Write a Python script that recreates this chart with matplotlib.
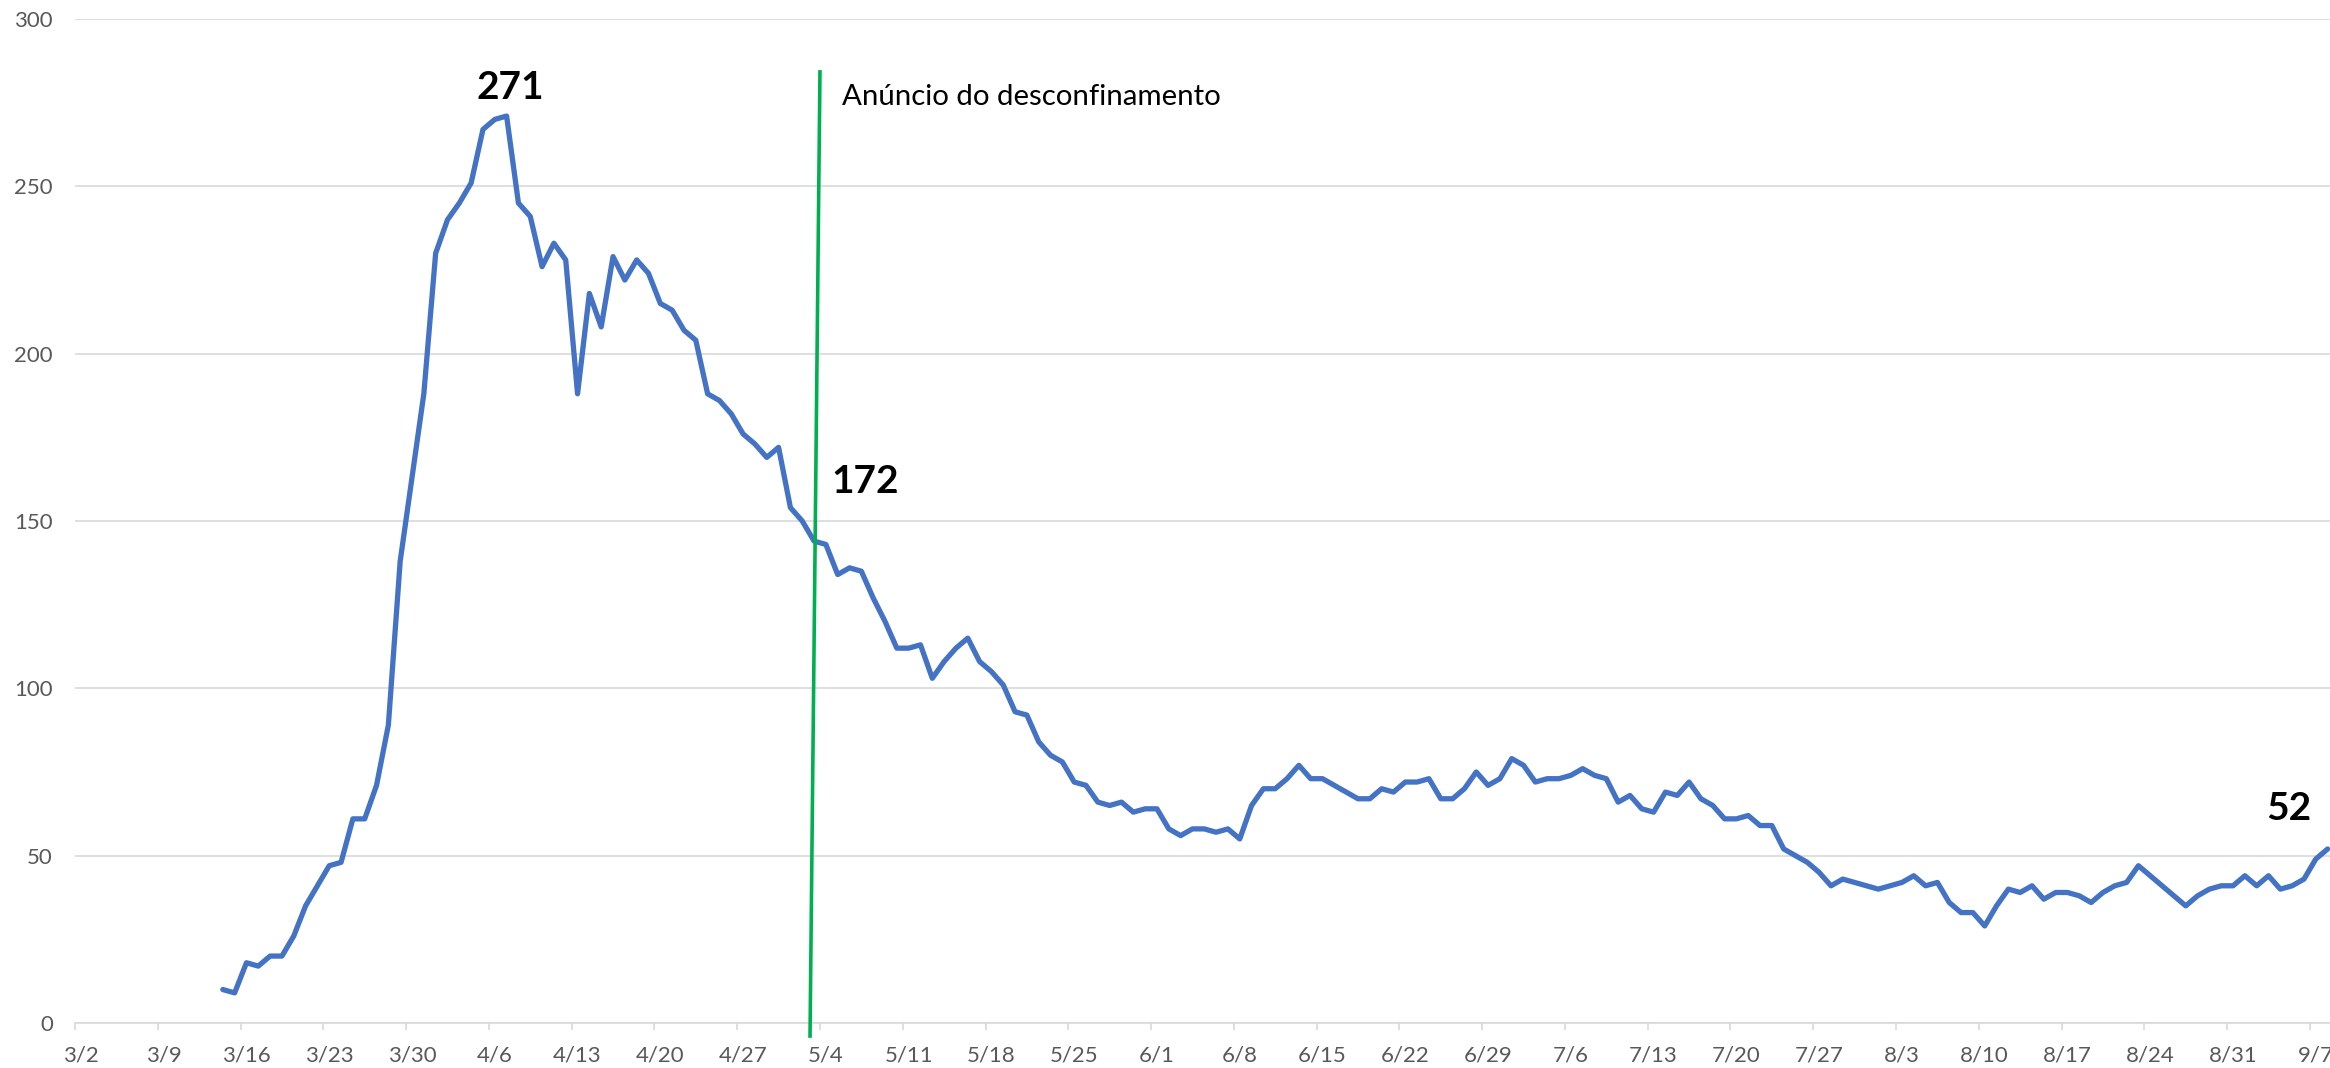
import matplotlib
matplotlib.use("Agg")
import matplotlib.pyplot as plt
import pandas as pd

plt.rcParams['font.family'] = ['Lato', 'DejaVu Sans']

# ---------------- data ----------------
start_date = "2020-03-14"
axis_start = "2020-03-02"
values = [
    10, 9, 18, 17, 20, 20, 26, 35, 41, 47, 48, 61, 61, 71, 89, 138, 163, 188,
    230, 240, 245, 251, 267, 270, 271, 245, 241, 226, 233, 228, 188, 218, 208,
    229, 222, 228, 224,
    215, 213, 207, 204, 188, 186, 182, 176, 173, 169, 172, 154, 150, 144, 143,
    134, 136, 135, 127, 120, 112, 112, 113, 103, 108, 112, 115, 108, 105, 101,
    93, 92, 84,
    80, 78, 72, 71, 66, 65, 66, 63, 64, 64, 58, 56, 58, 58, 57, 58, 55, 65, 70,
    70, 73, 77, 73, 73, 71, 69, 67, 67, 70, 69, 72, 72, 73, 67, 67, 70, 75, 71,
    73, 79, 77,
    72, 73, 73, 74, 76, 74, 73, 66, 68, 64, 63, 69, 68, 72, 67, 65, 61, 61, 62,
    59, 59, 52, 50, 48, 45, 41, 43, 42, 41, 40, 41, 42, 44, 41, 42,
    36, 33, 33, 29, 35, 40, 39, 41, 37, 39, 39, 38, 36, 39, 41, 42, 47, 44, 41,
    38, 35, 38, 40, 41, 41, 44, 41, 44, 40, 41, 43, 49, 52,
]
tick_labels = ["3/2", "3/9", "3/16", "3/23", "3/30", "4/6", "4/13", "4/20",
               "4/27", "5/4", "5/11", "5/18", "5/25", "6/1", "6/8", "6/15",
               "6/22", "6/29", "7/6", "7/13", "7/20", "7/27", "8/3", "8/10",
               "8/17", "8/24", "8/31", "9/7"]
y_ticks = [0, 50, 100, 150, 200, 250, 300]
label_texts = ["271", "172", "52"]
annotation_text = "Anúncio do desconfinamento"

dates = pd.date_range(start_date, periods=len(values), freq="D")
x = (dates - pd.Timestamp(axis_start)).days.values

# ---------------- figure ----------------
W, H = 2330, 1068
fig = plt.figure(figsize=(W / 100, H / 100), dpi=100)
ax = fig.add_axes([75 / W, 1 - 1023 / H, 1 - 75 / W, (1023 - 19) / H])

grid_c = "#d9d9d9"
text_c = "#595959"

ax.plot(x, values, color="#4472C4", lw=3.8, solid_joinstyle="round",
        solid_capstyle="round", zorder=3)

ax.set_xlim(-0.5, 190.2)
ax.set_ylim(0, 300)
ax.set_yticks(y_ticks)
ax.yaxis.grid(True, color=grid_c, lw=1.2)
ax.set_axisbelow(True)
for s in ["top", "right", "left"]:
    ax.spines[s].set_visible(False)
ax.spines["bottom"].set_color(grid_c)
ax.spines["bottom"].set_linewidth(1.2)

pos = [7 * i for i in range(len(tick_labels))]
ax.set_xticks([p - 0.5 for p in pos])
ax.set_xticklabels([])
ax.set_xticks(pos, minor=True)
ax.set_xticklabels(tick_labels, minor=True)
ax.tick_params(axis="x", which="major", length=5, width=1.2, color=grid_c)
ax.tick_params(axis="x", which="minor", length=0, pad=16, labelsize=16,
               labelcolor=text_c)
ax.tick_params(axis="y", length=0, pad=16, labelsize=16, labelcolor=text_c)

# annotation line (drawn shape)
ax.plot([62.5, 61.66], [284.2, -3.9], color="#00B050", lw=2.6,
        clip_on=False, zorder=4)
ax.text(64.4, 274.3, annotation_text, fontsize=21.2, color="black",
        ha="left", va="baseline")

ax.text(36.3, 276.1, label_texts[0], fontsize=28, fontweight="bold",
        ha="center", va="baseline")
ax.text(66.35, 158.3, label_texts[1], fontsize=28, fontweight="bold",
        ha="center", va="baseline")
ax.text(186.7, 60.7, label_texts[2], fontsize=28, fontweight="bold",
        ha="center", va="baseline")

fig.savefig("out.png", dpi=100)
